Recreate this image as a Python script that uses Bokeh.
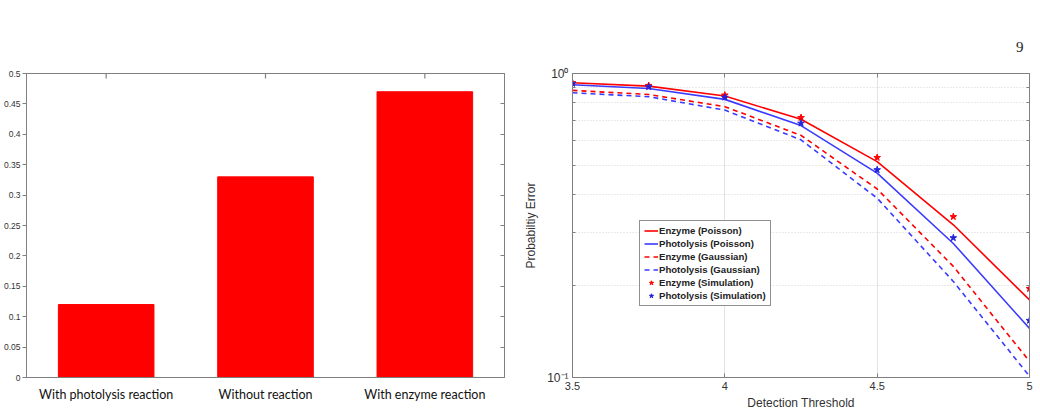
import math
from bokeh.plotting import figure
from bokeh.layouts import row
from bokeh.models import (Range1d, FactorRange, LinearAxis, LogAxis, FixedTicker,
                          CustomJSTickFormatter, Legend, LegendItem, Title)
from bokeh.embed import file_html
from bokeh.resources import INLINE

# ---------------- data ----------------
bar_categories = ["With photolysis reaction", "Without reaction", "With enzyme reaction"]
bar_values = [0.12, 0.33, 0.47]
bar_yticks = [0, 0.05, 0.1, 0.15, 0.2, 0.25, 0.3, 0.35, 0.4, 0.45, 0.5]

threshold = [3.5, 3.75, 4.0, 4.25, 4.5, 4.75, 5.0]
enzyme_poisson = [0.932, 0.909, 0.843, 0.707, 0.513, 0.318, 0.180]
photolysis_poisson = [0.918, 0.893, 0.822, 0.674, 0.470, 0.276, 0.145]
enzyme_gaussian = [0.880, 0.853, 0.778, 0.626, 0.417, 0.232, 0.113]
photolysis_gaussian = [0.864, 0.839, 0.758, 0.605, 0.389, 0.207, 0.101]
enzyme_sim = [0.932, 0.913, 0.849, 0.716, 0.529, 0.338, 0.196]
photolysis_sim = [0.927, 0.904, 0.835, 0.686, 0.482, 0.288, 0.154]
x_ticks = [3.5, 4.0, 4.5, 5.0]
y_minor = [0.2, 0.3, 0.4, 0.5, 0.6, 0.7, 0.8, 0.9]
page_number = "9"

AX = "#808080"
TXT = "#333333"
RED = "#ff0000"
BLUE = "#3b3bff"

blank = CustomJSTickFormatter(code="return '';")

# ---------------- left: bar chart ----------------
y_top = 0.5
p1 = figure(width=520, height=420, output_backend="svg", toolbar_location=None,
            x_range=FactorRange(*bar_categories, range_padding=0),
            y_range=Range1d(0, y_top),
            min_border_left=25, min_border_right=16, min_border_top=73, min_border_bottom=24)
p1.vbar(x=bar_categories, top=bar_values, width=0.6, color=RED, line_color=RED)
# inward tick marks on the top edge of the box, at each category
p1.ray(x=bar_categories, y=[y_top] * len(bar_categories), length=5, length_units="screen",
       angle=-math.pi / 2, line_color=AX, line_width=1.2)
p1.grid.visible = False
p1.outline_line_color = AX

fmt_bar = CustomJSTickFormatter(code="return tick.toFixed(2).replace(/\\.?0+$/, '') || '0';")
ya = p1.yaxis[0]
ya.ticker = FixedTicker(ticks=bar_yticks)
ya.formatter = fmt_bar
ya.axis_line_color = AX
ya.major_tick_line_color = AX
ya.major_tick_out = 4
ya.major_tick_in = 0
ya.minor_tick_line_color = None
ya.major_label_text_font = "Liberation Sans"
ya.major_label_text_font_size = "8.5px"
ya.major_label_text_color = TXT
ya.major_label_standoff = 2

xa = p1.xaxis[0]
xa.axis_line_color = AX
xa.major_tick_line_color = None
xa.major_label_text_font = "Lato"
xa.major_label_text_font_size = "12.5px"
xa.major_label_text_color = "#111111"
xa.major_label_standoff = 3

ra = LinearAxis(ticker=FixedTicker(ticks=bar_yticks), formatter=blank,
                axis_line_color=AX, major_tick_line_color=AX, major_tick_in=4, major_tick_out=0,
                minor_tick_line_color=None, major_label_standoff=0)
p1.add_layout(ra, "right")

# ---------------- right: log line chart ----------------
p2 = figure(width=520, height=420, output_backend="svg", toolbar_location=None,
            y_axis_type="log", x_range=Range1d(3.5, 5), y_range=Range1d(0.1, 1),
            min_border_left=52, min_border_right=11, min_border_top=72, min_border_bottom=43)
p2.outline_line_color = AX

r1 = p2.line(threshold, enzyme_poisson, line_color=RED, line_width=1.6)
r2 = p2.line(threshold, photolysis_poisson, line_color=BLUE, line_width=1.6)
r3 = p2.line(threshold, enzyme_gaussian, line_color=RED, line_width=1.6, line_dash="5 4")
r4 = p2.line(threshold, photolysis_gaussian, line_color=BLUE, line_width=1.6, line_dash="5 4")
r5 = p2.scatter(threshold, enzyme_sim, marker="star", size=7, fill_color=RED, line_color=RED)
r6 = p2.scatter(threshold, photolysis_sim, marker="star", size=7, fill_color="#2222dd", line_color="#2222dd")

p2.xgrid.ticker = FixedTicker(ticks=x_ticks)
p2.xgrid.grid_line_color = "#e3e3e3"
p2.ygrid.ticker = FixedTicker(ticks=[0.1, 1], minor_ticks=y_minor)
p2.ygrid.grid_line_color = None
p2.ygrid.minor_grid_line_color = "#d5d5d5"
p2.ygrid.minor_grid_line_dash = "1 2"

xb = p2.xaxis[0]
xb.ticker = FixedTicker(ticks=x_ticks)
xb.formatter = CustomJSTickFormatter(code="return String(Math.round(tick*100)/100);")
xb.axis_line_color = AX
xb.major_tick_line_color = AX
xb.major_tick_in = 4
xb.major_tick_out = 0
xb.minor_tick_line_color = None
xb.major_label_text_font = "Liberation Sans"
xb.major_label_text_font_size = "11px"
xb.major_label_text_color = TXT
xb.major_label_standoff = 4
xb.axis_label = "Detection Threshold"
xb.axis_label_text_font = "Liberation Sans"
xb.axis_label_text_font_style = "normal"
xb.axis_label_text_font_size = "12px"
xb.axis_label_text_color = TXT
xb.axis_label_standoff = 3

yb = p2.yaxis[0]
yb.ticker = FixedTicker(ticks=[0.1, 1], minor_ticks=y_minor)
yb.formatter = CustomJSTickFormatter(code="return tick >= 0.5 ? '10\u2070' : '10\u207b\u00b9';")
yb.axis_line_color = AX
yb.major_tick_line_color = AX
yb.minor_tick_line_color = AX
yb.major_tick_in = 4
yb.major_tick_out = 0
yb.minor_tick_in = 3
yb.minor_tick_out = 0
yb.major_label_text_font = "Liberation Sans"
yb.major_label_text_font_size = "12px"
yb.major_label_text_color = TXT
yb.major_label_standoff = 4
yb.axis_label = "Probabiltiy Error"
yb.axis_label_text_font = "Liberation Sans"
yb.axis_label_text_font_style = "normal"
yb.axis_label_text_font_size = "12px"
yb.axis_label_text_color = TXT
yb.axis_label_standoff = 6

rb = LogAxis(ticker=FixedTicker(ticks=[0.1, 1], minor_ticks=y_minor), formatter=blank,
             axis_line_color=AX, major_tick_line_color=AX, minor_tick_line_color=AX,
             major_tick_in=4, major_tick_out=0, minor_tick_in=3, minor_tick_out=0,
             major_label_standoff=0)
p2.add_layout(rb, "right")
tb = LinearAxis(ticker=FixedTicker(ticks=x_ticks), formatter=blank,
                axis_line_color=AX, major_tick_line_color=AX, minor_tick_line_color=None,
                major_tick_in=4, major_tick_out=0, major_label_standoff=0)
p2.add_layout(tb, "above")

legend = Legend(items=[
    LegendItem(label="Enzyme (Poisson)", renderers=[r1]),
    LegendItem(label="Photolysis (Poisson)", renderers=[r2]),
    LegendItem(label="Enzyme (Gaussian)", renderers=[r3]),
    LegendItem(label="Photolysis (Gaussian)", renderers=[r4]),
    LegendItem(label="Enzyme (Simulation)", renderers=[r5]),
    LegendItem(label="Photolysis (Simulation)", renderers=[r6]),
], location=(67, 71))
legend.label_text_font = "Liberation Sans"
legend.label_text_font_size = "9.6px"
legend.label_text_font_style = "bold"
legend.label_text_color = "#222222"
legend.label_height = 11
legend.label_standoff = 1
legend.glyph_height = 11
legend.glyph_width = 14
legend.spacing = 2
legend.padding = 4
legend.margin = 0
legend.border_line_color = "#222222"
legend.border_line_width = 1.5
legend.background_fill_alpha = 1
p2.add_layout(legend, "center")

p2.title = Title(text=page_number, align="right", offset=6, standoff=44,
                 text_font="Liberation Serif", text_font_size="15px",
                 text_font_style="normal", text_color="#222222")

layout = row(p1, p2)
open("out.html", "w").write(file_html(layout, INLINE))
